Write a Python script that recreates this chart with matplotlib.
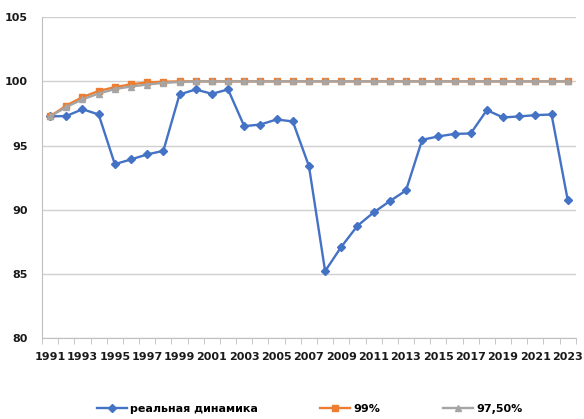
import matplotlib.pyplot as plt
from matplotlib.ticker import FixedLocator

years = list(range(1991, 2024))

real = [97.27, 97.3, 97.83, 97.42, 93.55, 93.92, 94.31, 94.59, 98.98, 99.37,
        99.03, 99.37, 96.51, 96.64, 97.03, 96.88, 93.4, 85.22, 87.11, 88.75,
        89.79, 90.67, 91.5, 95.45, 95.71, 95.91, 95.94, 97.76, 97.19, 97.27,
        97.37, 97.42, 90.75]
p99 = [97.27, 98.12, 98.77, 99.25, 99.55, 99.77, 99.92, 99.97] + [100.0] * 25
p975 = [97.27, 98.0, 98.6, 99.05, 99.4, 99.6, 99.75, 99.88, 99.95] + [100.0] * 24

labels = ["реальная динамика", "99%", "97,50%"]

fig = plt.figure(figsize=(5.84, 4.19), dpi=100)
ax = fig.add_axes([0.072, 0.193, 0.914, 0.766])

x = list(range(len(years)))
ax.plot(x, real, color="#4472C4", lw=1.7, marker="D", ms=4, label=labels[0], zorder=3)
ax.plot(x, p99, color="#ED7D31", lw=1.7, marker="s", ms=5, label=labels[1], zorder=3)
ax.plot(x, p975, color="#A5A5A5", lw=1.7, marker="^", ms=5, label=labels[2], zorder=4)

ax.set_xlim(-0.5, len(years) - 0.5)
ax.set_ylim(80, 105)
ax.set_yticks([80, 85, 90, 95, 100, 105])
ax.yaxis.grid(True, color="#D0D0D0", lw=1)
ax.set_axisbelow(True)

# year labels every other category, tick marks on category boundaries
ax.set_xticks(x[::2])
ax.set_xticklabels([str(y) for y in years[::2]])
ax.xaxis.set_minor_locator(FixedLocator([i - 0.5 for i in range(len(years) + 1)]))
ax.tick_params(axis="x", which="major", length=0, pad=10)
ax.tick_params(axis="x", which="minor", length=4, color="#BFBFBF", direction="out")
ax.tick_params(axis="y", length=0, pad=10)
for lab in ax.get_xticklabels() + ax.get_yticklabels():
    lab.set_fontsize(8)
    lab.set_fontweight("bold")
    lab.set_color("#1a1a1a")

for side in ["top", "right"]:
    ax.spines[side].set_visible(False)
for side in ["left", "bottom"]:
    ax.spines[side].set_color("#BFBFBF")

fig.legend(loc="center", bbox_to_anchor=(0.53, 0.025), ncol=3, frameon=False,
           prop={"weight": "bold", "size": 8}, columnspacing=5.6,
           handlelength=2.7, handletextpad=0.3)

fig.savefig("out.png", dpi=100)
